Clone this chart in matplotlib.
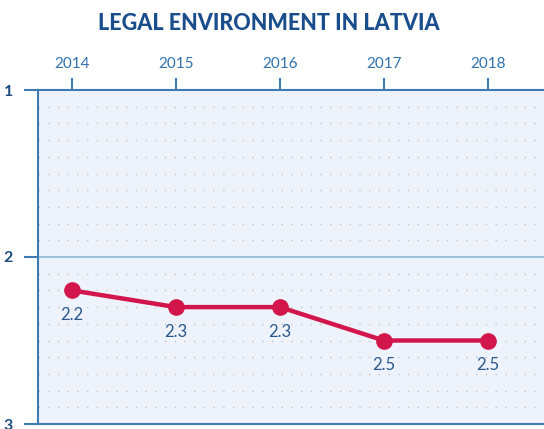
# -*- coding: utf-8 -*-
# Legal environment in Latvia, 2014-2018
import matplotlib
matplotlib.use("Agg")
import matplotlib.pyplot as plt
import numpy as np

years = [2014, 2015, 2016, 2017, 2018]
scores = [2.2, 2.3, 2.3, 2.5, 2.5]
labels = ["2.2", "2.3", "2.3", "2.5", "2.5"]
title = "LEGAL ENVIRONMENT IN LATVIA"

plt.rcParams['font.family'] = ['Lato', 'DejaVu Sans']

fig = plt.figure(figsize=(5.44, 4.29), dpi=100)
# 軸の位置（ピクセルから）
ax = fig.add_axes([38/544, 5/429, 506/544, 334/429])
ax.set_facecolor('#eef3fb')

ax.set_xlim(2013.673, 2018.54)
ax.set_ylim(3, 1)

# 点線グリッド
for g in np.arange(1.1, 3.0, 0.1):
    if abs(g - 2.0) < 1e-6:
        continue
    ax.axhline(g, color='#bcc4d0', linestyle=(0, (1, 6)), linewidth=1.0, zorder=1)
ax.axhline(2.0, color='#8fb4d8', linewidth=1.2, zorder=1)

ax.plot(years, scores, color='#d2164c', linewidth=3.2, marker='o',
        markersize=11, zorder=3)
for x, y, t in zip(years, scores, labels):
    ax.annotate(t, (x, y), xytext=(0, -12), textcoords='offset points',
                ha='center', va='top', fontsize=12, color='#2b5a8c')

# 軸
for s in ['top', 'left', 'bottom']:
    ax.spines[s].set_color('#3f7ab2')
    ax.spines[s].set_linewidth(1.5)
ax.spines['right'].set_visible(False)

ax.xaxis.tick_top()
ax.set_xticks(years)
ax.set_xticklabels([str(y) for y in years])
ax.tick_params(axis='x', direction='out', length=9, width=1.5, color='#3f7ab2',
               labelcolor='#2f72ad', labelsize=11, pad=5)
ax.set_yticks([1, 2, 3])
ax.set_yticklabels(['1', '2', '3'])
ax.tick_params(axis='y', direction='out', length=10, width=1.5, color='#3f7ab2',
               labelcolor='#1d4d80', labelsize=11.5, pad=8)
for t in ax.get_yticklabels():
    t.set_fontweight('bold')

fig.text(0.495, 0.945, title, ha='center', va='center', fontsize=15.5,
         fontweight='black', color='#1a4d8c')

fig.savefig('out.png', dpi=100)
